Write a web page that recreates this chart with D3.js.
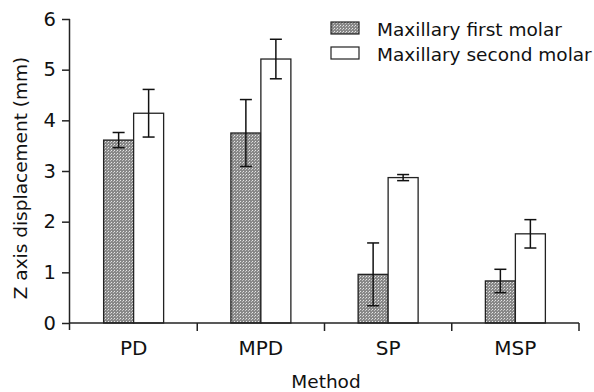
<!DOCTYPE html>
<html>
<head>
<meta charset="utf-8">
<script src="https://cdn.jsdelivr.net/npm/d3@7"></script>
<style>
  body { margin: 0; background: #fff; }
  text { font-family: "DejaVu Sans", "Liberation Sans", Arial, sans-serif; fill: #111; }
</style>
</head>
<body>
<svg id="plot" width="594" height="392"></svg>
<script>
const svg = d3.select("#plot");

// data
const methods = ["PD", "MPD", "SP", "MSP"];
const series = ["Maxillary first molar", "Maxillary second molar"];
const firstMolar = [3.61, 3.75, 0.96, 0.83];
const firstErr = [0.15, 0.66, 0.62, 0.23];
const secondMolar = [4.14, 5.21, 2.87, 1.76];
const secondErr = [0.47, 0.39, 0.06, 0.28];
const yTicks = [0, 1, 2, 3, 4, 5, 6];

const plotLeft = 70, plotRight = 579, plotTop = 19, plotBottom = 323;

const x = d3.scaleBand().domain(methods).range([plotLeft, plotRight]).padding(0);
const y = d3.scaleLinear().domain([0, 6]).range([plotBottom, plotTop]);
const barW = 30;
const inner = d3.scaleBand().domain([0, 1])
  .range([x.bandwidth() / 2 - barW, x.bandwidth() / 2 + barW]);

// stippled grey fill
const defs = svg.append("defs");
const pat = defs.append("pattern")
  .attr("id", "stipple")
  .attr("patternUnits", "userSpaceOnUse")
  .attr("width", 3).attr("height", 3);
pat.append("rect").attr("width", 3).attr("height", 3).attr("fill", "#888");
pat.append("rect").attr("x", 0).attr("y", 0).attr("width", 1).attr("height", 1).attr("fill", "#e6e6e6");
pat.append("rect").attr("x", 2).attr("y", 1).attr("width", 1).attr("height", 1).attr("fill", "#c4c4c4");

const rows = [];
methods.forEach((m, i) => {
  rows.push({ m, s: 0, v: firstMolar[i], e: firstErr[i] });
  rows.push({ m, s: 1, v: secondMolar[i], e: secondErr[i] });
});

// bars
svg.append("g").selectAll("rect")
  .data(rows)
  .join("rect")
  .attr("x", d => x(d.m) + inner(d.s))
  .attr("y", d => y(d.v))
  .attr("width", inner.bandwidth())
  .attr("height", d => y(0) - y(d.v))
  .attr("fill", d => d.s === 0 ? "url(#stipple)" : "#fff")
  .attr("stroke", "#222")
  .attr("stroke-width", 1.3);

// error bars
const eb = svg.append("g").attr("stroke", "#111").attr("stroke-width", 1.5);
rows.forEach(d => {
  const cx = x(d.m) + inner(d.s) + inner.bandwidth() / 2;
  eb.append("line").attr("x1", cx).attr("x2", cx)
    .attr("y1", y(d.v + d.e)).attr("y2", y(d.v - d.e));
  [d.v + d.e, d.v - d.e].forEach(v => {
    eb.append("line").attr("x1", cx - 6).attr("x2", cx + 6)
      .attr("y1", y(v)).attr("y2", y(v));
  });
});

// y axis
const yAxis = svg.append("g")
  .attr("transform", `translate(${plotLeft},0)`)
  .call(d3.axisLeft(y).tickValues(yTicks).tickSize(8).tickPadding(6).tickFormat(d3.format("d")));
yAxis.select(".domain").attr("d", `M-0.5,${plotTop}V${plotBottom + 7}`);
yAxis.selectAll("path, line").attr("stroke", "#222").attr("stroke-width", 1.5);
yAxis.selectAll("text").style("font-size", "19.5px").style("font-family", "DejaVu Sans");

// x axis: ticks at band edges
const xg = svg.append("g").attr("transform", `translate(0,${plotBottom})`);
xg.append("line").attr("x1", plotLeft).attr("x2", plotRight).attr("y1", 0).attr("y2", 0)
  .attr("stroke", "#222").attr("stroke-width", 1.5);
xg.selectAll("line.tk")
  .data(methods)
  .join("line")
  .attr("class", "tk")
  .attr("x1", d => x(d) + x.bandwidth()).attr("x2", d => x(d) + x.bandwidth())
  .attr("y1", 0).attr("y2", 8)
  .attr("stroke", "#222").attr("stroke-width", 1.5);
xg.selectAll("text")
  .data(methods)
  .join("text")
  .attr("x", d => x(d) + x.bandwidth() / 2)
  .attr("y", 32)
  .attr("text-anchor", "middle")
  .style("font-size", "20px")
  .text(d => d);

// axis titles
svg.append("text")
  .attr("transform", `translate(27,178) rotate(-90)`)
  .attr("text-anchor", "middle")
  .style("font-size", "18.5px")
  .text("Z axis displacement (mm)");
svg.append("text")
  .attr("x", 326).attr("y", 388)
  .attr("text-anchor", "middle")
  .style("font-size", "18.5px")
  .text("Method");

// legend
const lg = svg.append("g").attr("transform", "translate(331,22)");
series.forEach((s, i) => {
  lg.append("rect")
    .attr("x", 0).attr("y", i * 25)
    .attr("width", 28).attr("height", 12)
    .attr("fill", i === 0 ? "url(#stipple)" : "#fff")
    .attr("stroke", "#222").attr("stroke-width", 1.2);
  lg.append("text")
    .attr("x", 46).attr("y", i * 25 + 14)
    .style("font-size", "18.5px")
    .text(s);
});
</script>
</body>
</html>
